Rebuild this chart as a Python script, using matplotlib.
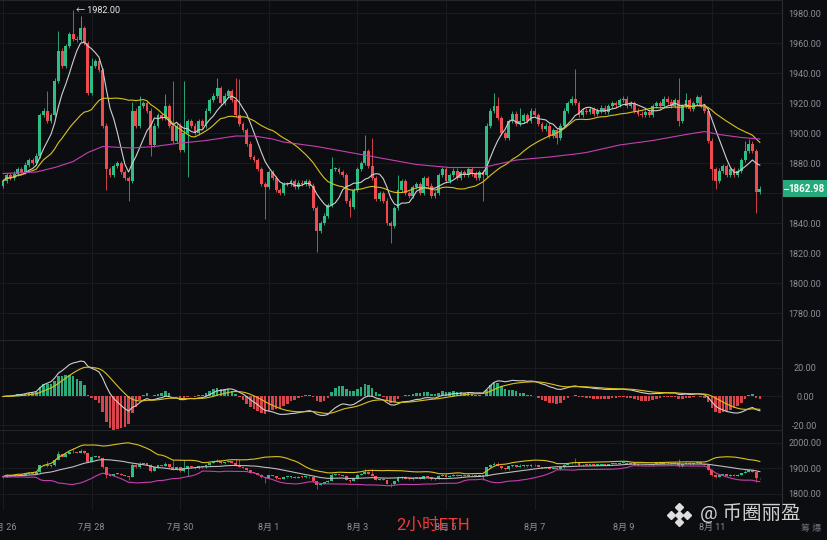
import matplotlib.pyplot as plt
import matplotlib.transforms as mtransforms
from matplotlib.patches import Rectangle
import numpy as np
import pandas as pd

plt.rcParams['font.family'] = ['Roboto', 'Noto Sans CJK SC', 'DejaVu Sans']

# 2h closes, 7/26 00:00 onward
closes = [
    1868, 1872, 1870, 1873, 1876, 1874, 1879, 1882, 1880, 1885,
    1912, 1915, 1908, 1912, 1935, 1955, 1945, 1958, 1966, 1963,
    1962, 1970, 1960, 1927, 1945, 1948, 1942, 1905, 1876, 1872,
    1878, 1880, 1874, 1870, 1868, 1915, 1905, 1918, 1920, 1915,
    1892, 1905, 1912, 1910, 1918, 1905, 1895, 1905, 1889, 1900,
    1908, 1905, 1900, 1908, 1905, 1915, 1922, 1925, 1930, 1920,
    1925, 1928, 1922, 1912, 1906, 1902, 1893, 1884, 1882, 1876,
    1866, 1864, 1874, 1870, 1862, 1860, 1866, 1866, 1868, 1864,
    1867, 1866, 1868, 1865, 1850, 1835, 1840, 1845, 1852, 1876,
    1876, 1874, 1872, 1855, 1851, 1862, 1876, 1880, 1888, 1878,
    1870, 1856, 1860, 1855, 1840, 1838, 1850, 1862, 1868, 1860,
    1858, 1864, 1866, 1860, 1870, 1865, 1858, 1860, 1872, 1876,
    1868, 1872, 1875, 1870, 1874, 1872, 1876, 1873, 1870, 1874,
    1872, 1905, 1915, 1918, 1910, 1900, 1897, 1908, 1913, 1906,
    1908, 1912, 1908, 1915, 1912, 1906, 1903, 1905, 1898, 1902,
    1897, 1905, 1915, 1920, 1923, 1920, 1912, 1915, 1914, 1916,
    1913, 1915, 1917, 1914, 1918, 1920, 1919, 1922, 1923, 1918,
    1920, 1915, 1913, 1912, 1914, 1912, 1918, 1920, 1918, 1923,
    1921, 1918, 1922, 1908, 1918, 1922, 1916, 1920, 1924, 1918,
    1915, 1895, 1876, 1868, 1875, 1878, 1872, 1876, 1872, 1875,
    1882, 1888, 1893, 1888, 1861, 1862.98,
]
first_open = 1865

# long wicks that stand out
hi_over = {12: 1928, 15: 1968, 19: 1982, 21: 1978, 24: 1950, 35: 1921,
           37: 1925, 44: 1926, 46: 1935, 49: 1935, 58: 1937, 63: 1937,
           64: 1936, 89: 1884, 98: 1899, 100: 1897, 107: 1872, 133: 1927,
           134: 1924, 140: 1917, 155: 1943, 183: 1937, 185: 1927,
           201: 1895, 202: 1896}
lo_over = {28: 1862, 34: 1855, 40: 1885, 50: 1871, 71: 1843, 85: 1821,
           94: 1844, 105: 1827, 130: 1855, 150: 1893, 183: 1905, 192: 1869,
           193: 1863, 204: 1847}

# MA99 (its history starts before the window)
ma99_idx = [0, 9, 14, 19, 23, 27, 35, 41, 47, 55, 63, 68, 73, 76, 85, 94,
            103, 112, 121, 130, 139, 148, 155, 158, 167, 176, 185, 190, 194,
            200, 205]
ma99_val = [1873, 1874, 1877, 1881, 1887, 1891, 1890, 1891, 1893, 1895,
            1898, 1898, 1896, 1894, 1891, 1887, 1883, 1879, 1877, 1877,
            1882, 1884, 1886, 1887, 1892, 1895, 1899, 1901, 1899, 1897, 1896]

date_idx = [0, 24, 48, 72, 96, 120, 144, 168, 192]
date_labels = ['7月 26', '7月 28', '7月 30', '8月 1', '8月 3', '8月 5',
               '8月 7', '8月 9', '8月 11']
price_ticks = list(range(1780, 1981, 20))
macd_ticks = [-20, 0, 20]
boll_ticks = [1800, 1900, 2000]

BG = '#0c0d10'
GRID = '#1a1c21'
UP = '#2ebd85'
DOWN = '#ef4b50'
TXT = '#8a8f99'
W, H = 828, 540

c = np.array(closes, float)
o = np.r_[first_open, c[:-1]]
h = np.maximum(o, c) + 1.5
l = np.minimum(o, c) - 1.5
for k, v in hi_over.items():
    h[k] = v
for k, v in lo_over.items():
    l[k] = v
idx = np.arange(len(c))

s = pd.Series(c)
ma7 = s.rolling(7, min_periods=1).mean()
ma25 = s.rolling(25, min_periods=1).mean()
dif = s.ewm(span=12, adjust=False).mean() - s.ewm(span=26, adjust=False).mean()
dea = dif.ewm(span=9, adjust=False).mean()
hist = 2 * (dif - dea)
mid = s.rolling(20, min_periods=1).mean()
sd = s.rolling(20, min_periods=1).std(ddof=0)
upper = mid + 2 * sd
lower = mid - 2 * sd


def candles(ax, min_h, lw=0.6, width=0.78):
    cols = np.where(c >= o, UP, DOWN)
    ax.vlines(idx, l, h, colors=cols, linewidth=lw, zorder=3)
    ax.bar(idx, np.maximum(np.abs(c - o), min_h), bottom=np.minimum(o, c),
           width=width, color=cols, linewidth=0, zorder=4)


def style(ax, ticks, ylim, hide=None):
    ax.set_facecolor(BG)
    ax.set_xlim(-0.81, 211.0)
    ax.set_ylim(*ylim)
    for sp in ax.spines.values():
        sp.set_visible(False)
    ax.spines['right'].set_visible(True)
    ax.spines['right'].set_color('#2a2d33')
    ax.spines['top'].set_visible(True)
    ax.spines['top'].set_color('#22252a')
    ax.set_xticks([])
    ax.yaxis.tick_right()
    ax.set_yticks(ticks)
    # the last-price tag covers the tick label next to it
    ax.set_yticklabels(['' if hide is not None and abs(t - hide) < 8
                        else f'{t:.2f}' for t in ticks])
    ax.tick_params(axis='y', length=0, pad=16.5, labelsize=6.5, labelcolor=TXT)
    for lab in ax.get_yticklabels():
        lab.set_horizontalalignment('center')
    for t in ticks:
        ax.axhline(t, color=GRID, linewidth=0.7, zorder=0)
    for d in date_idx:
        ax.axvline(d, color=GRID, linewidth=0.7, zorder=0)


fig = plt.figure(figsize=(W / 100, H / 100), dpi=100, facecolor=BG)

def box(x0, y0, x1, y1):
    return [x0 / W, 1 - y1 / H, (x1 - x0) / W, (y1 - y0) / H]

ax = fig.add_axes(box(0, 0, 782, 340))
ax_m = fig.add_axes(box(0, 340, 782, 430))
ax_b = fig.add_axes(box(0, 430, 782, 510))

# main price panel
style(ax, price_ticks, (1762, 1988.67), hide=c[-1])
candles(ax, 0.6)
ax.plot(idx, ma7, color='#cfcfcf', linewidth=0.8, zorder=5)
ax.plot(idx, ma25, color='#d9c21c', linewidth=0.8, zorder=5)
ax.plot(ma99_idx, ma99_val, color='#c53fb0', linewidth=0.8, zorder=5)

i_hi = int(np.argmax(h))
ax.text(i_hi + 0.8, h[i_hi], f'← {h[i_hi]:.2f}', color='#e8e8e8',
        fontsize=6.5, va='center', ha='left', zorder=6)

tr = mtransforms.blended_transform_factory(ax.transAxes, ax.transData)
ax.add_patch(Rectangle((1.001, c[-1] - 5.4), 0.06, 10.8, transform=tr,
                       facecolor='#26a97b', edgecolor='none', clip_on=False,
                       zorder=7))
ax.plot([1.003, 1.008], [c[-1], c[-1]], transform=tr, color='white',
        linewidth=0.8, clip_on=False, zorder=8)
ax.text(1 + 24 / 782, c[-1], f'{c[-1]:.2f}', transform=tr, color='white',
        fontsize=7, fontweight='bold', ha='center', va='center', zorder=8)

# MACD panel
style(ax_m, macd_ticks, (-23.5, 39.6))
hcol = np.where(hist >= 0, UP, DOWN)
ax_m.bar(idx, hist, width=0.7, color=hcol, linewidth=0, alpha=0.9, zorder=3)
ax_m.plot(idx, dif, color='#cfcfcf', linewidth=0.8, zorder=4)
ax_m.plot(idx, dea, color='#d9c21c', linewidth=0.8, zorder=4)

# BOLL panel
style(ax_b, boll_ticks, (1737, 2051))
candles(ax_b, 3, lw=0.5)
ax_b.plot(idx, upper, color='#d9c21c', linewidth=0.8, zorder=5)
ax_b.plot(idx, mid, color='#bdbdbd', linewidth=0.8, zorder=5)
ax_b.plot(idx, lower, color='#c53fb0', linewidth=0.8, zorder=5)

trb = mtransforms.blended_transform_factory(ax_b.transData, ax_b.transAxes)
for d, lab in zip(date_idx, date_labels):
    ax_b.text(d, -17 / 80, lab, transform=trb, color=TXT, fontsize=6.5,
              ha='center', va='center', clip_on=False)

# overlays
fig.text(433 / W, 1 - 525 / H, '2小时ETH', color='#f03a3a', fontsize=12,
         ha='center', va='center')
fig.text(700 / W, 1 - 513 / H, '@ 币圈丽盈', color='#e2e2e2', fontsize=14,
         ha='left', va='center', alpha=0.92)
fig.text(811 / W, 1 - 529 / H, '筹 爆', color='#6b7079', fontsize=6.5,
         ha='center', va='center')

ax_logo = fig.add_axes(box(666, 502, 692, 527))
ax_logo.set_axis_off()
ax_logo.set_xlim(-1.8, 1.8)
ax_logo.set_ylim(-1.8, 1.8)
ax_logo.plot([0], [0], marker='D', markersize=4.5, color='#dedede')
ax_logo.plot([0, 0, 1.15, -1.15], [1.15, -1.15, 0, 0], linestyle='none',
             marker='D', markersize=4, color='#dedede')

fig.savefig('out.png', dpi=100, facecolor=BG)
